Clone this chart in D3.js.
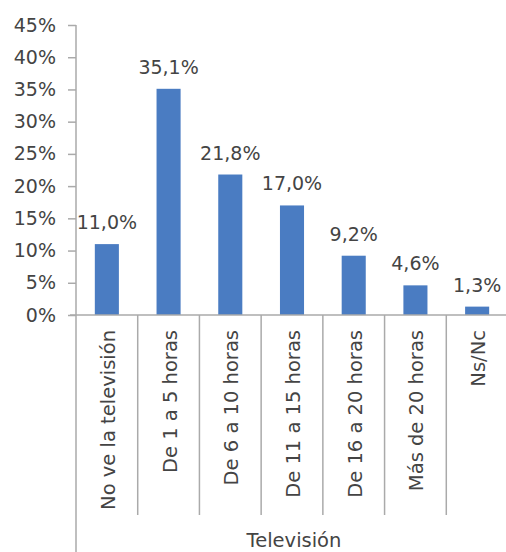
<!DOCTYPE html>
<html>
<head>
<meta charset="utf-8">
<script src="https://cdn.jsdelivr.net/npm/d3@7"></script>
<style>
  body { margin: 0; background: #fff; }
  text { font-family: "DejaVu Sans", sans-serif; fill: #444; }
</style>
</head>
<body>
<div class="chart"></div>
<script>
var categories = ["No ve la televisión", "De 1 a 5 horas", "De 6 a 10 horas", "De 11 a 15 horas",
                  "De 16 a 20 horas", "Más de 20 horas", "Ns/Nc"];
var values = [11.0, 35.1, 21.8, 17.0, 9.2, 4.6, 1.3];
var yTicks = [0, 5, 10, 15, 20, 25, 30, 35, 40, 45];
var axisTitle = "Televisión";

var w = 506;
var h = 552;

var svg = d3.select(".chart")
    .append("svg")
    .attr("width", w)
    .attr("height", h);

var x = d3.scaleBand()
    .domain(categories)
    .range([76, 508])
    .paddingInner(0.61)
    .paddingOuter(0.305);

var y = d3.scaleLinear()
    .domain([0, 45])
    .range([315, 25]);

var fmt = function(v) { return v.toFixed(1).replace(".", ",") + "%"; };

// bars
svg.selectAll("rect.bar")
    .data(values)
    .enter()
    .append("rect")
    .attr("class", "bar")
    .attr("x", function(d, i) { return x(categories[i]); })
    .attr("y", function(d) { return y(d); })
    .attr("width", x.bandwidth())
    .attr("height", function(d) { return y(0) - y(d); })
    .attr("fill", "#4a7cc2");

// value labels
svg.selectAll("text.val")
    .data(values)
    .enter()
    .append("text")
    .attr("class", "val")
    .attr("x", function(d, i) { return x(categories[i]) + x.bandwidth() / 2; })
    .attr("y", function(d) { return y(d) - 15; })
    .attr("text-anchor", "middle")
    .attr("font-size", "19px")
    .text(fmt);

// y axis
var yAxis = d3.axisLeft(y)
    .tickValues(yTicks)
    .tickSize(8)
    .tickPadding(12)
    .tickFormat(function(d) { return d + "%"; });

var gy = svg.append("g")
    .attr("transform", "translate(76,0)")
    .call(yAxis);
gy.select(".domain").remove();
gy.selectAll("line").attr("stroke", "#aaa").attr("stroke-width", 1.5);
gy.selectAll("text").attr("font-size", "19px").style("font-family", "DejaVu Sans").attr("fill", "#444");

// y axis line, running down past the category labels
svg.append("line")
    .attr("x1", 76).attr("x2", 76)
    .attr("y1", y(45)).attr("y2", h)
    .attr("stroke", "#aaa").attr("stroke-width", 1.5);

// x axis line
svg.append("line")
    .attr("x1", 70).attr("x2", w)
    .attr("y1", y(0)).attr("y2", y(0))
    .attr("stroke", "#aaa").attr("stroke-width", 1.5);

// separators between categories
var step = x.step();
svg.selectAll("line.sep")
    .data(categories.slice(1))
    .enter()
    .append("line")
    .attr("class", "sep")
    .attr("x1", function(d) { return x(d) - (step - x.bandwidth()) / 2; })
    .attr("x2", function(d) { return x(d) - (step - x.bandwidth()) / 2; })
    .attr("y1", y(0))
    .attr("y2", 515)
    .attr("stroke", "#aaa")
    .attr("stroke-width", 1.5);

// category labels
svg.selectAll("text.cat")
    .data(categories)
    .enter()
    .append("text")
    .attr("class", "cat")
    .attr("transform", function(d) {
        return "translate(" + (x(d) + x.bandwidth() / 2 + 8) + ",330) rotate(-90)";
    })
    .attr("text-anchor", "end")
    .attr("font-size", "19.5px")
    .text(function(d) { return d; });

// axis title
svg.append("text")
    .attr("x", 294)
    .attr("y", 547)
    .attr("text-anchor", "middle")
    .attr("font-size", "19.5px")
    .text(axisTitle);
</script>
</body>
</html>
